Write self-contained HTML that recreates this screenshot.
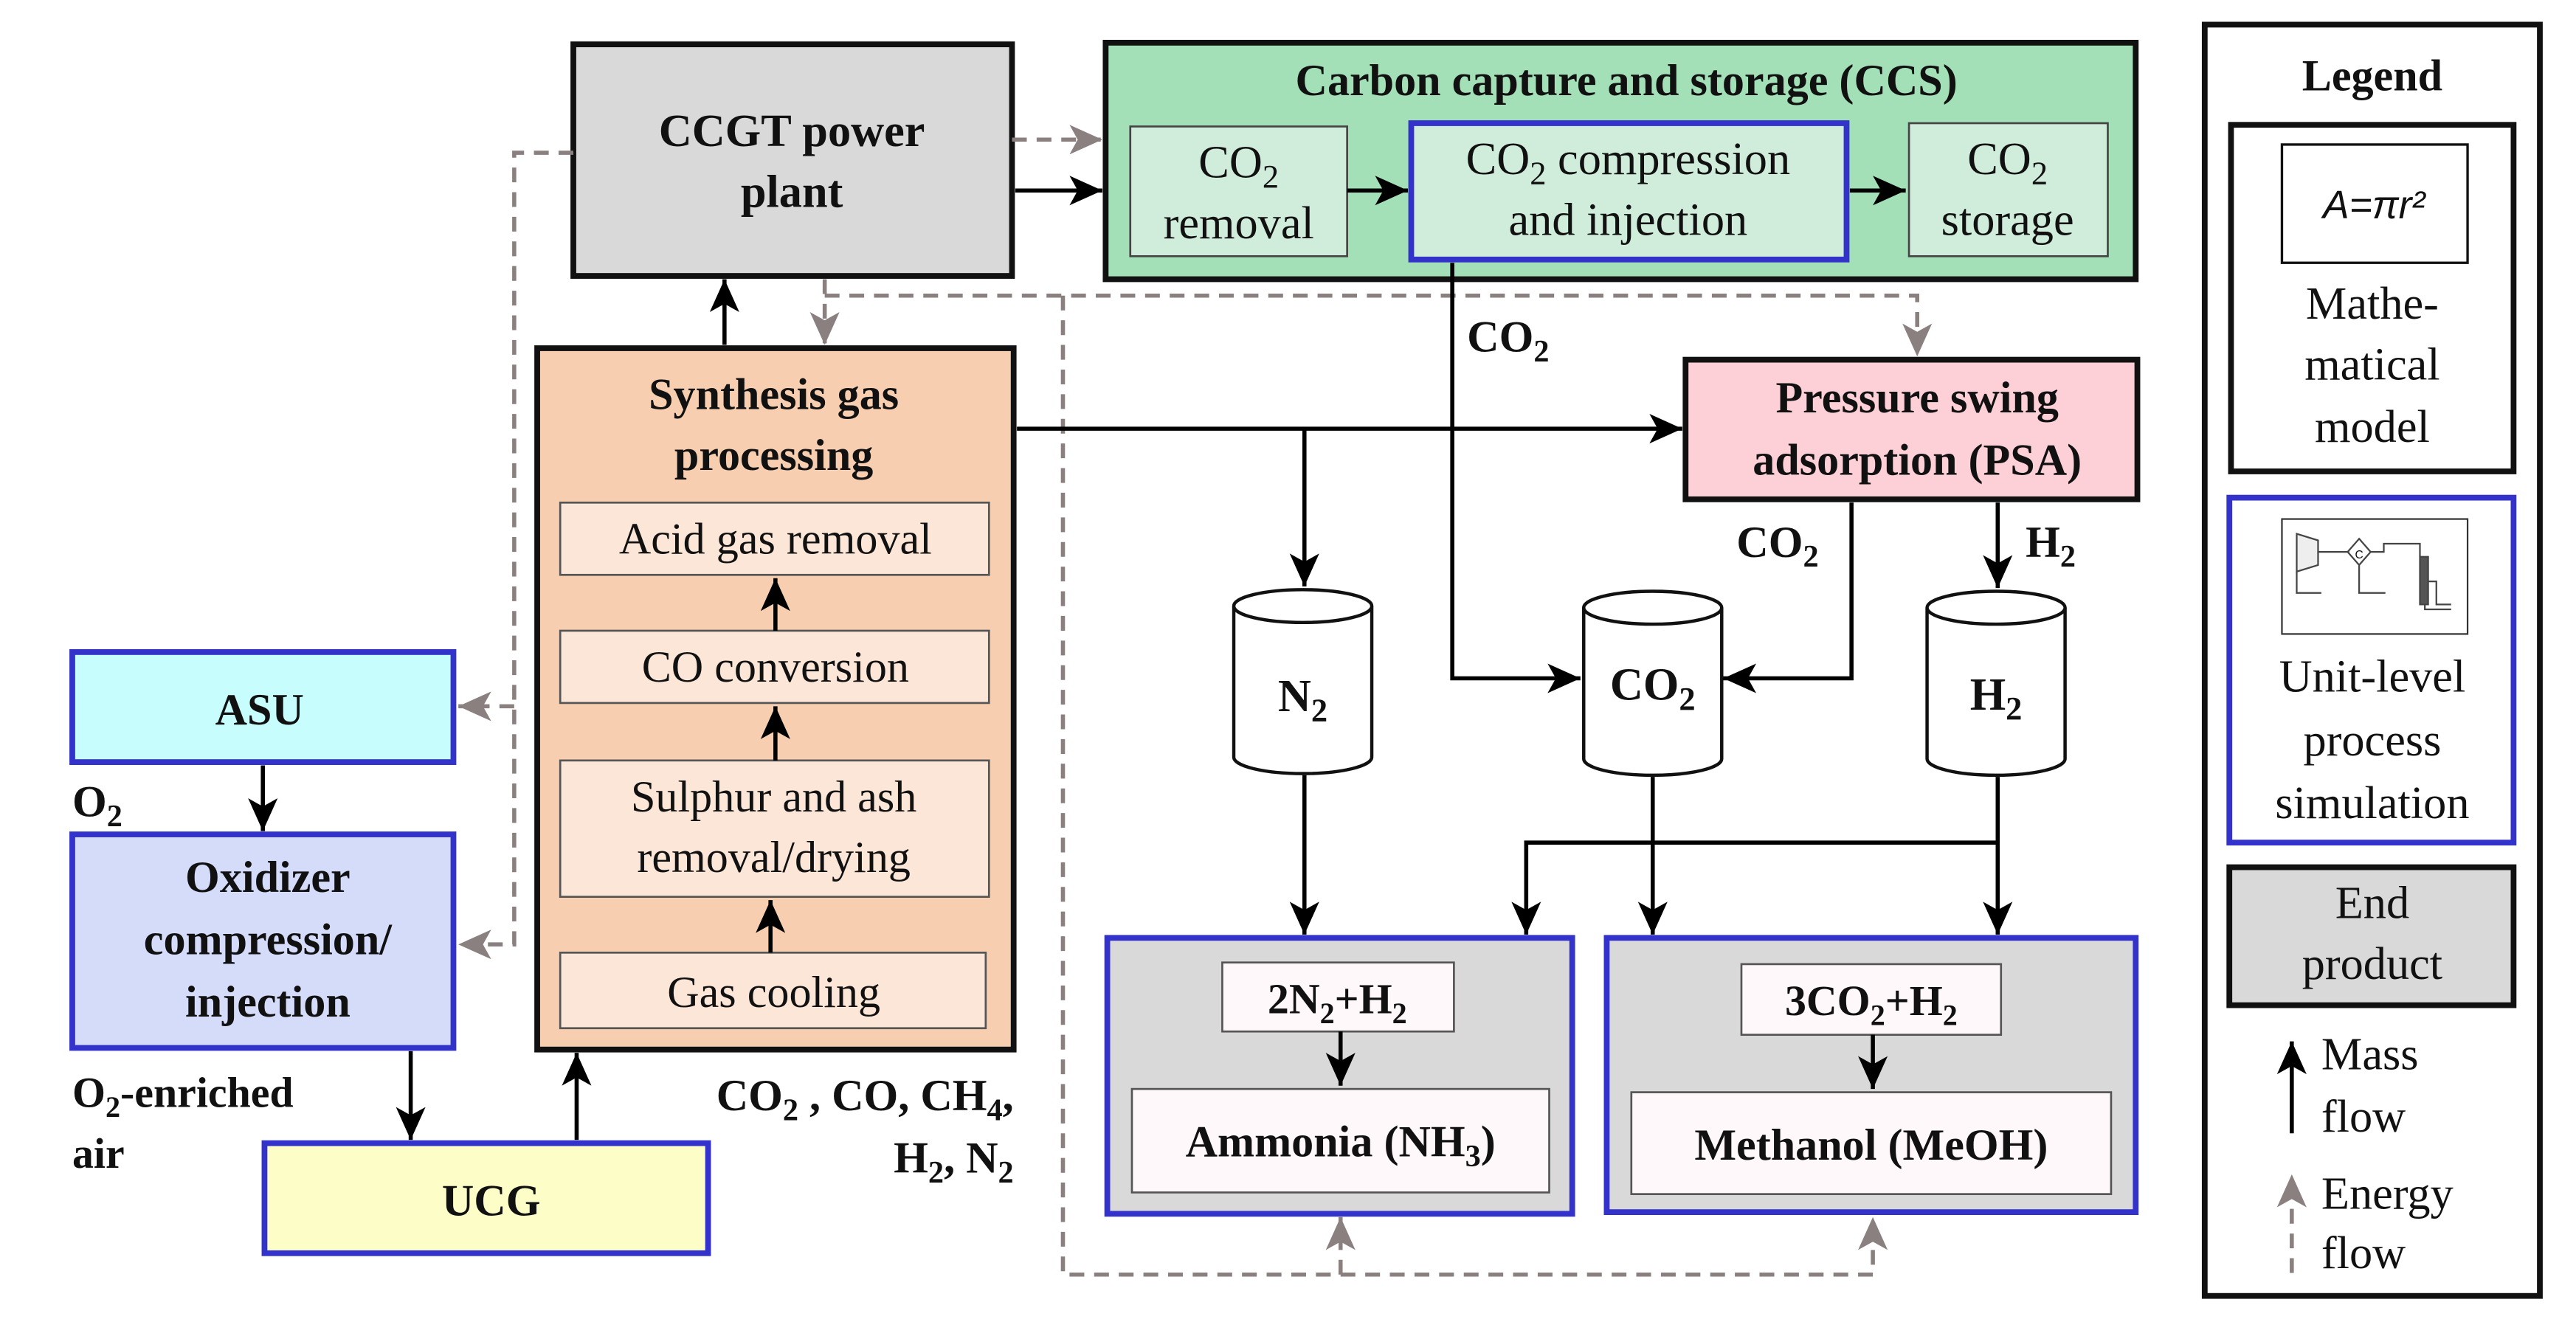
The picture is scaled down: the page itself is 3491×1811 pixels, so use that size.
<!DOCTYPE html>
<html><head><meta charset="utf-8"><style>
html,body{margin:0;padding:0;background:#fff}
svg{display:block}
text{font-family:"Liberation Serif",serif;fill:#111}
.b{font-weight:bold}
</style></head><body>
<svg width="3491" height="1811" viewBox="0 0 1568 813.4" preserveAspectRatio="none" xmlns="http://www.w3.org/2000/svg">
<defs>
<marker id="ak" markerUnits="userSpaceOnUse" markerWidth="22" markerHeight="18" refX="20" refY="9" orient="auto"><path d="M0,0 L20,9 L0,18 L5,9 Z" fill="#000"/></marker>
<marker id="ag" markerUnits="userSpaceOnUse" markerWidth="22" markerHeight="18" refX="20" refY="9" orient="auto"><path d="M0,0 L20,9 L0,18 L5,9 Z" fill="#8a8080"/></marker>
</defs>
<rect width="1568" height="813.4" fill="#fff"/>

<!-- CCGT -->
<rect x="349" y="27" width="267" height="141" fill="#d9d9d9" stroke="#111" stroke-width="3.5"/>
<text class="b" x="482" y="89" font-size="28" text-anchor="middle">CCGT power</text>
<text class="b" x="482" y="126" font-size="28" text-anchor="middle">plant</text>

<!-- CCS -->
<rect x="673" y="26" width="627" height="144" fill="#a3e0b8" stroke="#111" stroke-width="3.5"/>
<text class="b" x="990" y="58" font-size="27" text-anchor="middle">Carbon capture and storage (CCS)</text>
<rect x="688" y="77" width="132" height="79" fill="#d0ecdb" stroke="#444" stroke-width="1.2"/>
<text x="754" y="108" font-size="28" text-anchor="middle">CO<tspan font-size="20" dy="6">2</tspan></text>
<text x="754" y="145" font-size="28" text-anchor="middle">removal</text>
<rect x="859" y="75" width="265" height="83" fill="#d0ecdb" stroke="#3333cc" stroke-width="3.5"/>
<text x="991" y="106" font-size="28" text-anchor="middle">CO<tspan font-size="20" dy="6">2</tspan><tspan dy="-6"> compression</tspan></text>
<text x="991" y="143" font-size="28" text-anchor="middle">and injection</text>
<rect x="1162" y="75" width="121" height="81" fill="#d0ecdb" stroke="#444" stroke-width="1.2"/>
<text x="1222" y="106" font-size="28" text-anchor="middle">CO<tspan font-size="20" dy="6">2</tspan></text>
<text x="1222" y="143" font-size="28" text-anchor="middle">storage</text>

<!-- Syngas -->
<rect x="327" y="212" width="290" height="427" fill="#f7cfb0" stroke="#111" stroke-width="3.5"/>
<text class="b" x="471" y="249" font-size="27" text-anchor="middle">Synthesis gas</text>
<text class="b" x="471" y="286" font-size="27" text-anchor="middle">processing</text>
<g fill="#fbe6d8" stroke="#555" stroke-width="1.2">
<rect x="341" y="306" width="261" height="44"/>
<rect x="341" y="384" width="261" height="44"/>
<rect x="341" y="463" width="261" height="83"/>
<rect x="341" y="580" width="259" height="46"/>
</g>
<text x="472" y="337" font-size="27" text-anchor="middle">Acid gas removal</text>
<text x="472" y="415" font-size="27" text-anchor="middle">CO conversion</text>
<text x="471" y="494" font-size="27" text-anchor="middle">Sulphur and ash</text>
<text x="471" y="531" font-size="27" text-anchor="middle">removal/drying</text>
<text x="471" y="613" font-size="27" text-anchor="middle">Gas cooling</text>
<text class="b" x="617" y="676" font-size="27" text-anchor="end">CO<tspan font-size="19" dy="6">2</tspan><tspan dy="-6"> , CO, CH</tspan><tspan font-size="19" dy="6">4</tspan><tspan dy="-6">,</tspan></text>
<text class="b" x="617" y="714" font-size="27" text-anchor="end">H<tspan font-size="19" dy="6">2</tspan><tspan dy="-6">, N</tspan><tspan font-size="19" dy="6">2</tspan></text>

<!-- ASU / Oxidizer / UCG -->
<rect x="44" y="397" width="232" height="67" fill="#c8fdfd" stroke="#3333cc" stroke-width="3.5"/>
<text class="b" x="158" y="441" font-size="27" text-anchor="middle">ASU</text>
<text class="b" x="44" y="497" font-size="27">O<tspan font-size="19" dy="6">2</tspan></text>
<rect x="44" y="508" width="232" height="130" fill="#d4dcfa" stroke="#3333cc" stroke-width="3.5"/>
<text class="b" x="163" y="543" font-size="27" text-anchor="middle">Oxidizer</text>
<text class="b" x="163" y="581" font-size="27" text-anchor="middle">compression/</text>
<text class="b" x="163" y="619" font-size="27" text-anchor="middle">injection</text>
<text class="b" x="44" y="674" font-size="26">O<tspan font-size="18" dy="6">2</tspan><tspan dy="-6">-enriched</tspan></text>
<text class="b" x="44" y="711" font-size="26">air</text>
<rect x="161" y="696" width="270" height="67" fill="#fdfdc8" stroke="#3333cc" stroke-width="3.5"/>
<text class="b" x="299" y="740" font-size="27" text-anchor="middle">UCG</text>

<!-- PSA -->
<rect x="1026" y="219" width="275" height="85" fill="#fdd0d8" stroke="#111" stroke-width="3.5"/>
<text class="b" x="1167" y="251" font-size="27" text-anchor="middle">Pressure swing</text>
<text class="b" x="1167" y="289" font-size="27" text-anchor="middle">adsorption (PSA)</text>
<text class="b" x="893" y="214" font-size="27">CO<tspan font-size="19" dy="6">2</tspan></text>
<text class="b" x="1057" y="339" font-size="27">CO<tspan font-size="19" dy="6">2</tspan></text>
<text class="b" x="1233" y="339" font-size="27">H<tspan font-size="19" dy="6">2</tspan></text>

<!-- cylinders -->
<g fill="#fff" stroke="#111" stroke-width="2">
<path d="M751,369 V461 A42,10 0 0 0 835,461 V369"/>
<ellipse cx="793" cy="369" rx="42" ry="10"/>
<path d="M964,370 V462 A42,10 0 0 0 1048,462 V370"/>
<ellipse cx="1006" cy="370" rx="42" ry="10"/>
<path d="M1173,370 V462 A42,10 0 0 0 1257,462 V370"/>
<ellipse cx="1215" cy="370" rx="42" ry="10"/>
</g>
<text class="b" x="793" y="433" font-size="28" text-anchor="middle">N<tspan font-size="20" dy="6">2</tspan></text>
<text class="b" x="1006" y="426" font-size="28" text-anchor="middle">CO<tspan font-size="20" dy="6">2</tspan></text>
<text class="b" x="1215" y="432" font-size="28" text-anchor="middle">H<tspan font-size="20" dy="6">2</tspan></text>

<!-- Ammonia / Methanol -->
<rect x="674" y="571" width="283" height="168" fill="#d9d9d9" stroke="#3333cc" stroke-width="3.5"/>
<rect x="744" y="586" width="141" height="42" fill="#fff8fb" stroke="#555" stroke-width="1.2"/>
<text class="b" x="814" y="617" font-size="26" text-anchor="middle">2N<tspan font-size="18" dy="6">2</tspan><tspan dy="-6">+H</tspan><tspan font-size="18" dy="6">2</tspan></text>
<rect x="689" y="663" width="254" height="63" fill="#fff8fb" stroke="#555" stroke-width="1.2"/>
<text class="b" x="816" y="704" font-size="27" text-anchor="middle">Ammonia (NH<tspan font-size="19" dy="6">3</tspan><tspan dy="-6">)</tspan></text>
<rect x="978" y="571" width="322" height="167" fill="#d9d9d9" stroke="#3333cc" stroke-width="3.5"/>
<rect x="1060" y="587" width="158" height="43" fill="#fff8fb" stroke="#555" stroke-width="1.2"/>
<text class="b" x="1139" y="618" font-size="26" text-anchor="middle">3CO<tspan font-size="18" dy="6">2</tspan><tspan dy="-6">+H</tspan><tspan font-size="18" dy="6">2</tspan></text>
<rect x="993" y="665" width="292" height="62" fill="#fff8fb" stroke="#555" stroke-width="1.2"/>
<text class="b" x="1139" y="706" font-size="27" text-anchor="middle">Methanol (MeOH)</text>

<!-- gray dashed energy lines -->
<g fill="none" stroke="#8a8080" stroke-width="2.5" stroke-dasharray="9,6">
<path d="M616,85 H671" marker-end="url(#ag)"/>
<path d="M349,93 H313 V575 H279" marker-end="url(#ag)"/>
<path d="M313,430 H279" marker-end="url(#ag)"/>
<path d="M502,170 V210" marker-end="url(#ag)"/>
<path d="M502,180 H1167 V217" marker-end="url(#ag)"/>
<path d="M647,180 V776 H1140 V741" marker-end="url(#ag)"/>
<path d="M816,776 V741" marker-end="url(#ag)"/>
</g>

<!-- black mass lines -->
<g fill="none" stroke="#000" stroke-width="2.5">
<path d="M618,116 H671" marker-end="url(#ak)"/>
<path d="M820,116 H857" marker-end="url(#ak)"/>
<path d="M1126,116 H1160" marker-end="url(#ak)"/>
<path d="M441,210 V170" marker-end="url(#ak)"/>
<path d="M619,261 H1024" marker-end="url(#ak)"/>
<path d="M794,261 V357" marker-end="url(#ak)"/>
<path d="M884,160 V413 H962" marker-end="url(#ak)"/>
<path d="M1127,306 V413 H1049" marker-end="url(#ak)"/>
<path d="M1216,306 V358" marker-end="url(#ak)"/>
<path d="M794,472 V569" marker-end="url(#ak)"/>
<path d="M1006,473 V569" marker-end="url(#ak)"/>
<path d="M1216,473 V569" marker-end="url(#ak)"/>
<path d="M1216,513 H929 V569" marker-end="url(#ak)"/>
<path d="M816,628 V661" marker-end="url(#ak)"/>
<path d="M1140,630 V663" marker-end="url(#ak)"/>
<path d="M472,384 V352" marker-end="url(#ak)"/>
<path d="M472,463 V430" marker-end="url(#ak)"/>
<path d="M469,580 V548" marker-end="url(#ak)"/>
<path d="M160,466 V506" marker-end="url(#ak)"/>
<path d="M250,640 V694" marker-end="url(#ak)"/>
<path d="M351,694 V641" marker-end="url(#ak)"/>
</g>

<!-- Legend -->
<rect x="1342" y="15" width="204" height="774" fill="#fff" stroke="#111" stroke-width="3.5"/>
<text class="b" x="1444" y="55" font-size="27" text-anchor="middle">Legend</text>
<rect x="1358" y="76" width="172" height="211" fill="#fff" stroke="#111" stroke-width="3.5"/>
<rect x="1389" y="88" width="113" height="72" fill="#fff" stroke="#111" stroke-width="1.5"/>
<text x="1445" y="133" font-size="24" text-anchor="middle" font-style="italic" style="font-family:'Liberation Sans',sans-serif">A=πr²</text>
<text x="1444" y="194" font-size="28" text-anchor="middle">Mathe-</text>
<text x="1444" y="231" font-size="28" text-anchor="middle">matical</text>
<text x="1444" y="269" font-size="28" text-anchor="middle">model</text>
<rect x="1357" y="303" width="173" height="210" fill="#fff" stroke="#3333cc" stroke-width="3.5"/>
<rect x="1389" y="316" width="113" height="70" fill="#fff" stroke="#333" stroke-width="1"/>
<g fill="none" stroke="#444" stroke-width="1">
<path d="M1398,325 L1411,329 V344 L1398,348 Z" fill="#eee"/>
<path d="M1411,336 H1430 M1436,328 L1443,336 L1436,344 L1429,336 Z M1443,336 H1451 V331 H1473 V339 M1398,348 V361 H1413 M1436,344 V361 H1452 M1476,339 V371 H1492 M1478,354 H1483 V368 H1492"/>
<rect x="1473" y="339" width="5" height="29" fill="#555"/>
</g>
<text x="1436" y="340" font-size="7" text-anchor="middle" style="font-family:'Liberation Sans',sans-serif">C</text>
<text x="1444" y="421" font-size="28" text-anchor="middle">Unit-level</text>
<text x="1444" y="460" font-size="28" text-anchor="middle">process</text>
<text x="1444" y="498" font-size="28" text-anchor="middle">simulation</text>
<rect x="1357" y="528" width="173" height="84" fill="#d9d9d9" stroke="#111" stroke-width="3.5"/>
<text x="1444" y="559" font-size="28" text-anchor="middle">End</text>
<text x="1444" y="596" font-size="28" text-anchor="middle">product</text>
<path d="M1395,690 V634" stroke="#000" stroke-width="2.5" fill="none" marker-end="url(#ak)"/>
<text x="1413" y="651" font-size="28">Mass</text>
<text x="1413" y="689" font-size="28">flow</text>
<path d="M1395,775 V715" stroke="#8a8080" stroke-width="2.5" stroke-dasharray="9,6" fill="none" marker-end="url(#ag)"/>
<text x="1413" y="736" font-size="28">Energy</text>
<text x="1413" y="772" font-size="28">flow</text>
</svg>
</body></html>
